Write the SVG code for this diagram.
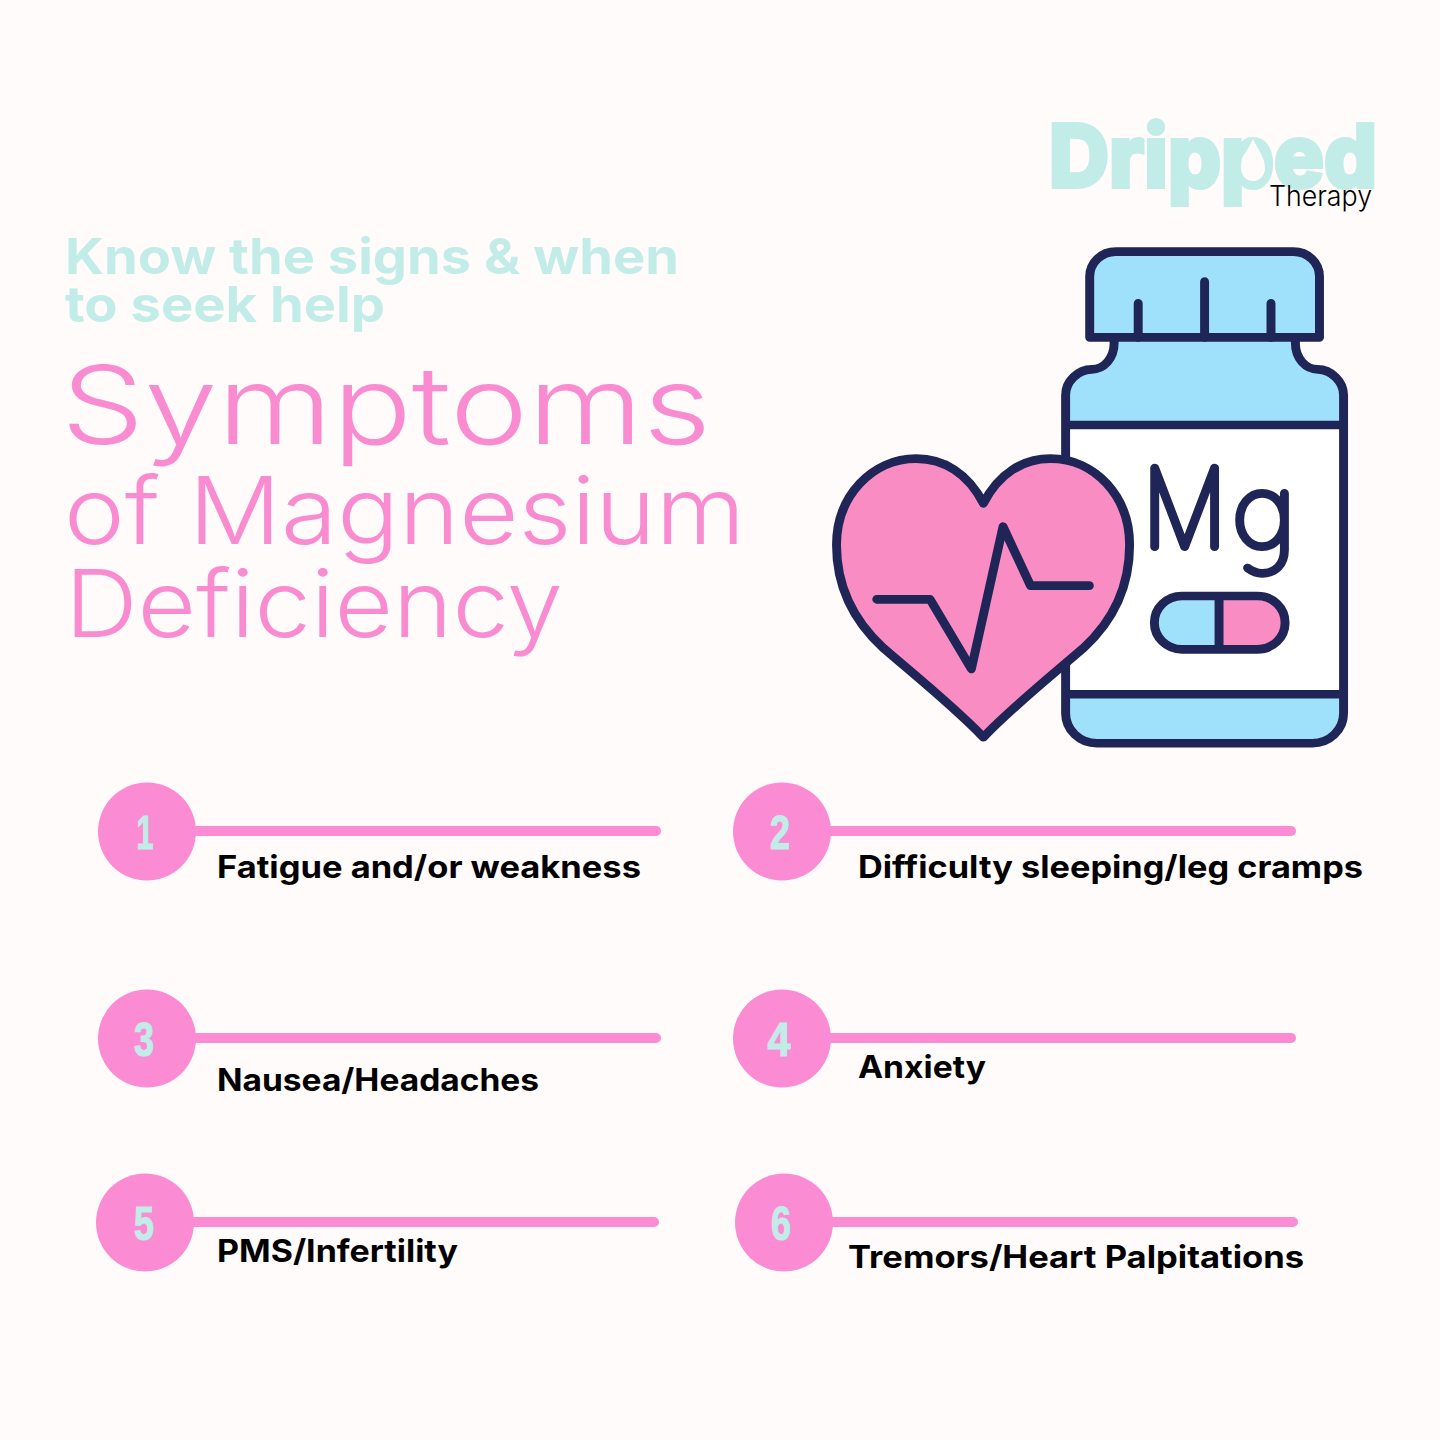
<svg xmlns="http://www.w3.org/2000/svg" width="1440" height="1440" viewBox="0 0 1440 1440">
<style>
.h{font-family:"Inter","Liberation Sans",sans-serif;font-weight:700;fill:#c2ece8;font-size:50px}
.t{font-family:"Inter","Liberation Sans",sans-serif;font-weight:300;fill:#f98cd0}
.l{font-family:"Inter","Liberation Sans",sans-serif;font-weight:700;fill:#000;font-size:31px}
.n{font-family:"Liberation Sans",sans-serif;font-weight:700;fill:#c2ece8;stroke:#c2ece8;stroke-width:1.2;font-size:48px;text-anchor:middle}
.c{fill:#fb8bd2}
.b{fill:#fb8bd2}
.s{stroke:#1f2557;stroke-width:26;stroke-linecap:round;stroke-linejoin:round}
</style>
<rect width="1440" height="1440" fill="#fffbfa"/>
<g id="logo">
<text x="1049" y="187" font-family="Inter,'Liberation Sans',sans-serif" font-weight="800" font-size="86" fill="#c2ece8" stroke="#c2ece8" stroke-width="4" textLength="328" lengthAdjust="spacingAndGlyphs">Dripped</text>
<path d="M1253 139C1248 150 1241 157 1241 168C1241 175 1246 181 1253 181C1260 181 1265 175 1265 168C1265 157 1258 150 1253 139Z" fill="#fffbfa"/>
<text x="1269" y="206" font-family="Inter,'Liberation Sans',sans-serif" font-weight="300" font-size="28" fill="#000" textLength="103" lengthAdjust="spacingAndGlyphs">Therapy</text>
</g>
<g id="title">
<text class="h" x="65" y="274" textLength="614" lengthAdjust="spacingAndGlyphs">Know the signs &amp; when</text>
<text class="h" x="65" y="322" textLength="320" lengthAdjust="spacingAndGlyphs">to seek help</text>
<text class="t" x="61" y="444" font-size="108" textLength="650" lengthAdjust="spacingAndGlyphs">Symptoms</text>
<text class="t" x="64" y="544" font-size="93" textLength="681" lengthAdjust="spacingAndGlyphs">of Magnesium</text>
<text class="t" x="65" y="637" font-size="93" textLength="498" lengthAdjust="spacingAndGlyphs">Deficiency</text>
</g>
<g id="illustration" transform="translate(820,240) scale(0.344,0.3333)">
<g id="bottle">
<path d="M855 292V310C855 355 825 388 790 388C750 388 714 425 714 465V1420C714 1470 755 1510 805 1510H1431C1481 1510 1522 1470 1522 1420V465C1522 425 1486 388 1447 388C1412 388 1382 355 1382 310V292Z" fill="#9fe0fb"/>
<rect x="714" y="555" width="808" height="808" fill="#fff"/>
<path class="s" fill="none" d="M855 292V310C855 355 825 388 790 388C750 388 714 425 714 465V1420C714 1470 755 1510 805 1510H1431C1481 1510 1522 1470 1522 1420V465C1522 425 1486 388 1447 388C1412 388 1382 355 1382 310V292M714 555H1522M714 1363H1522"/>
<path class="s" fill="#9fe0fb" d="M784 292V110C784 68 818 35 860 35H1376C1418 35 1452 68 1452 110V292Z"/>
<path class="s" fill="none" d="M925 190V292M1118 125V292M1311 190V292"/>
<path class="s" fill="none" d="M973 920V684L1060 920L1147 684V920"/>
<path class="s" fill="none" d="M1350 760V930C1350 975 1322 1000 1285 1000C1268 1000 1255 993 1243 984M1350 840C1350 885 1322 920 1285 920C1248 920 1220 885 1220 840C1220 795 1248 760 1285 760C1322 760 1350 795 1350 840Z"/>
<path d="M1160 1068H1052A80 80 0 0 0 1052 1228H1160Z" fill="#9fe0fb"/>
<path d="M1160 1068H1272A80 80 0 0 1 1272 1228H1160Z" fill="#f98cc2"/>
<path class="s" fill="none" d="M1052 1068H1272A80 80 0 0 1 1272 1228H1052A80 80 0 0 1 1052 1068ZM1160 1068V1228"/>
</g>
<g id="heart">
<path class="s" fill="#f98cc2" d="M475 790C430 700 360 656 280 656C150 656 48 770 48 915C48 1040 95 1140 185 1225C275 1305 395 1405 475 1492C555 1405 675 1305 765 1225C855 1140 900 1040 900 915C900 770 800 656 670 656C590 656 520 700 475 790Z"/>
<path class="s" fill="none" d="M165 1078H320L440 1287L532 860L612 1037H783"/>
</g>
</g>
<g id="connectors">
<rect class="b" x="190" y="826" width="471" height="10" rx="5"/>
<rect class="b" x="825" y="826" width="471" height="10" rx="5"/>
<rect class="b" x="190" y="1033" width="471" height="10" rx="5"/>
<rect class="b" x="825" y="1033" width="471" height="10" rx="5"/>
<rect class="b" x="188" y="1217" width="471" height="10" rx="5"/>
<rect class="b" x="827" y="1217" width="471" height="10" rx="5"/>
</g>
<g id="node1"><circle class="c" cx="147" cy="831.5" r="49"/><text class="n" x="145" y="849" textLength="17" lengthAdjust="spacingAndGlyphs">1</text><text class="l" x="217" y="877.500" textLength="424" lengthAdjust="spacingAndGlyphs">Fatigue and/or weakness</text></g>
<g id="node2"><circle class="c" cx="782" cy="831.5" r="49"/><text class="n" x="780" y="849" textLength="20" lengthAdjust="spacingAndGlyphs">2</text><text class="l" x="858" y="877.500" textLength="505" lengthAdjust="spacingAndGlyphs">Difficulty sleeping/leg cramps</text></g>
<g id="node3"><circle class="c" cx="147" cy="1038.5" r="49"/><text class="n" x="144" y="1056" textLength="20" lengthAdjust="spacingAndGlyphs">3</text><text class="l" x="217" y="1090.500" textLength="322" lengthAdjust="spacingAndGlyphs">Nausea/Headaches</text></g>
<g id="node4"><circle class="c" cx="782" cy="1038.5" r="49"/><text class="n" x="779" y="1056" textLength="23" lengthAdjust="spacingAndGlyphs">4</text><text class="l" x="858" y="1078" textLength="128" lengthAdjust="spacingAndGlyphs">Anxiety</text></g>
<g id="node5"><circle class="c" cx="145" cy="1222.5" r="49"/><text class="n" x="144" y="1240" textLength="20" lengthAdjust="spacingAndGlyphs">5</text><text class="l" x="217" y="1261.500" textLength="241" lengthAdjust="spacingAndGlyphs">PMS/Infertility</text></g>
<g id="node6"><circle class="c" cx="784" cy="1222.5" r="49"/><text class="n" x="781" y="1240" textLength="20" lengthAdjust="spacingAndGlyphs">6</text><text class="l" x="848" y="1267.500" textLength="456" lengthAdjust="spacingAndGlyphs">Tremors/Heart Palpitations</text></g>
</svg>
